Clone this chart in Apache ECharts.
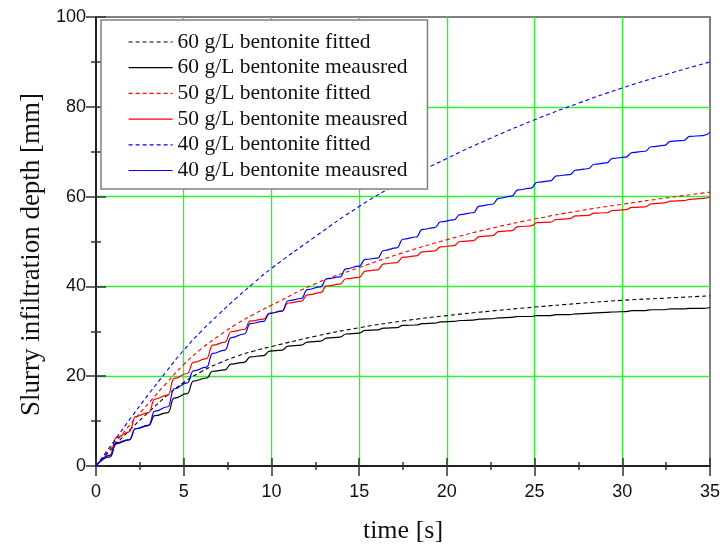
<!DOCTYPE html>
<html>
<head>
<meta charset="utf-8">
<script src="https://cdn.jsdelivr.net/npm/echarts@6/dist/echarts.min.js"></script>
<style>
  html, body { margin: 0; padding: 0; background: #fff; }
  #chart { width: 723px; height: 549px; }
</style>
</head>
<body>
<div id="chart"></div>
<script>
// Fitted curves (s -> mm)
var timeFit = [0, 1, 2, 3, 4, 5, 6, 7, 8, 9, 10, 12.5, 15, 17.5, 20, 22.5, 25, 27.5, 30, 32.5, 35];
var fit60 = [0, 4.3, 8.3, 12.0, 15.5, 18.6, 21.0, 22.9, 24.4, 25.6, 26.6, 28.9, 30.8, 32.3, 33.5, 34.5, 35.4, 36.2, 36.9, 37.4, 37.9];
var fit50 = [0, 4.8, 9.5, 14.0, 18.4, 22.6, 26.1, 29.0, 31.6, 33.8, 35.8, 40.6, 44.2, 47.5, 50.4, 52.9, 55.0, 56.8, 58.3, 59.7, 61.0];
var fit40 = [0, 5.4, 10.8, 16.0, 21.0, 25.8, 30.0, 33.8, 37.4, 40.8, 44.0, 51.1, 57.8, 63.5, 68.5, 73.0, 77.1, 80.8, 84.2, 87.2, 90.0];

// Measured records (stepwise growth)
var timeMeas = [0, 0.8, 1.15, 1.9, 2.25, 3.0, 3.35, 4.1, 4.45, 5.2, 5.55, 6.3, 6.65, 7.35, 7.7, 8.45, 8.8,
  9.55, 9.9, 10.6, 10.95, 11.7, 12.05, 12.8, 13.15, 13.9, 14.25, 15.0, 15.35, 16.05, 16.4, 17.15, 17.5,
  18.25, 18.6, 19.3, 19.65, 20.4, 20.75, 21.5, 21.85, 22.6, 22.95, 23.7, 24.05, 24.8, 25.15, 25.9, 26.25,
  27.0, 27.35, 28.05, 28.4, 29.1, 29.45, 30.2, 30.55, 31.3, 31.65, 32.4, 32.75, 33.5, 33.85, 34.6, 35];
var meas60 = [0, 2.0, 5.0, 5.8, 8.3, 9.0, 11.2, 11.9, 15.1, 16.1, 18.9, 19.6, 21.1, 21.4, 22.7, 23.1, 24.3,
  24.6, 25.6, 25.8, 26.7, 26.9, 27.6, 27.8, 28.5, 28.7, 29.4, 29.6, 30.2, 30.3, 30.7, 30.8, 31.3,
  31.4, 31.7, 31.8, 32.1, 32.2, 32.4, 32.5, 32.7, 32.8, 33.0, 33.1, 33.3, 33.3, 33.5, 33.5, 33.7,
  33.7, 33.9, 34.0, 34.1, 34.2, 34.3, 34.4, 34.6, 34.6, 34.8, 34.8, 35.0, 35.0, 35.1, 35.1, 35.3];
var meas50 = [0, 2.4, 6.3, 7.6, 11.0, 11.9, 14.9, 15.8, 19.5, 20.6, 23.1, 23.9, 26.9, 27.6, 29.9, 30.4, 32.3,
  32.7, 34.0, 34.5, 36.3, 36.7, 38.1, 38.6, 40.1, 40.5, 41.7, 42.0, 43.4, 43.7, 45.0, 45.3, 46.5,
  46.8, 47.7, 47.9, 48.8, 49.1, 50.0, 50.2, 51.1, 51.3, 52.2, 52.4, 53.3, 53.5, 54.2, 54.3, 54.9,
  55.1, 55.7, 55.8, 56.3, 56.4, 56.9, 57.1, 57.6, 57.7, 58.4, 58.6, 59.0, 59.1, 59.4, 59.6, 59.9];
var meas40 = [0, 2.3, 5.2, 5.9, 8.3, 9.1, 12.2, 13.2, 17.2, 18.5, 21.2, 22.0, 25.1, 25.8, 28.6, 29.4, 31.7,
  32.2, 34.0, 34.5, 36.8, 37.3, 39.3, 39.9, 41.7, 42.1, 43.9, 44.5, 46.0, 46.3, 48.0, 48.6, 50.5,
  51.0, 52.7, 53.1, 54.4, 54.8, 56.0, 56.4, 57.9, 58.3, 59.6, 60.1, 61.5, 61.9, 63.2, 63.5, 64.6,
  64.9, 65.9, 66.2, 67.2, 67.5, 68.5, 68.8, 69.8, 70.1, 71.1, 71.4, 72.3, 72.5, 73.4, 73.6, 74.3];

var seriesNames = [
  '60 g/L bentonite fitted', '60 g/L bentonite meausred',
  '50 g/L bentonite fitted', '50 g/L bentonite meausred',
  '40 g/L bentonite fitted', '40 g/L bentonite meausred'
];
var seriesColors = ['#000000', '#000000', '#ff0000', '#ff0000', '#0000ff', '#0000ff'];
var seriesDashed = [true, false, true, false, true, false];

function pairs(xs, ys) {
  return xs.map(function (x, i) { return [x, ys[i]]; });
}

var GRID_GREEN = '#33ee33';
var SANS = 'Liberation Sans, Arial, sans-serif';
var SERIF = 'Liberation Serif, Times New Roman, serif';
var DASH = [4, 3];

function fittedSeries(name, color, xs, ys) {
  return {
    name: name, type: 'line', data: pairs(xs, ys),
    smooth: true, symbol: 'none', silent: true,
    lineStyle: { color: color, width: 1.1, type: DASH },
    itemStyle: { color: color }
  };
}
function measuredSeries(name, color, xs, ys) {
  return {
    name: name, type: 'line', data: pairs(xs, ys),
    smooth: 0.5, smoothMonotone: 'x', symbol: 'none', silent: true,
    lineStyle: { color: color, width: 1.2 },
    itemStyle: { color: color }
  };
}

// Legend entries: a plain line sample (solid or dashed) without a marker
var LINE_ICON = 'path://M0,0M0,7L44,7M44,14';
var legendData = seriesNames.map(function (name, i) {
  return {
    name: name,
    icon: LINE_ICON,
    itemStyle: {
      color: 'transparent',
      borderColor: seriesColors[i],
      borderWidth: 1.2,
      borderType: seriesDashed[i] ? DASH : 'solid'
    }
  };
});

var chart = echarts.init(document.getElementById('chart'), null, { renderer: 'canvas' });

var option = {
  animation: false,
  backgroundColor: '#fff',
  grid: {
    left: 96, right: 12, top: 17, bottom: 81,
    show: true, borderColor: '#808080', borderWidth: 2, backgroundColor: 'transparent'
  },
  legend: {
    left: 101, top: 20, orient: 'vertical',
    padding: [11, 20, 7.5, 27],
    itemWidth: 44, itemHeight: 14, itemGap: 3.7,
    backgroundColor: '#fff', borderColor: '#808080', borderWidth: 1.5, borderRadius: 0,
    textStyle: { fontFamily: SERIF, fontSize: 21.5, color: '#111' },
    data: legendData
  },
  xAxis: [
    {
      type: 'value', min: 0, max: 35, interval: 5, position: 'bottom',
      name: 'time [s]', nameLocation: 'middle', nameGap: 52,
      nameTextStyle: { fontFamily: SERIF, fontSize: 26, color: '#111' },
      axisLine: { show: true, onZero: false, lineStyle: { color: '#000', width: 1.5 } },
      axisTick: { show: true, inside: false, length: 10, lineStyle: { color: '#333', width: 1.5 } },
      minorTick: { show: true, splitNumber: 2, length: 4, lineStyle: { color: '#333', width: 1.5 } },
      axisLabel: { fontFamily: SANS, fontSize: 18, color: '#111', margin: 17 },
      splitLine: { show: true, showMinLine: false, showMaxLine: false, lineStyle: { color: GRID_GREEN, width: 1.4 } }
    },
    {
      type: 'value', min: 0, max: 35, interval: 5, position: 'bottom',
      axisLine: { show: false, onZero: false },
      axisTick: { show: true, inside: true, length: 8, lineStyle: { color: '#333', width: 1.5 } },
      minorTick: { show: true, splitNumber: 2, length: 4, lineStyle: { color: '#333', width: 1.5 } },
      axisLabel: { show: false },
      splitLine: { show: false }
    }
  ],
  yAxis: [
    {
      type: 'value', min: 0, max: 100, interval: 20, position: 'left',
      name: 'Slurry infiltration depth [mm]', nameLocation: 'middle', nameGap: 50, nameRotate: 90,
      nameTextStyle: { fontFamily: SERIF, fontSize: 27, color: '#111', padding: [0, 26, 0, 0] },
      axisLine: { show: true, onZero: false, lineStyle: { color: '#000', width: 1.5 } },
      axisTick: { show: true, inside: false, length: 10, lineStyle: { color: '#333', width: 1.5 } },
      minorTick: { show: true, splitNumber: 2, length: 5, lineStyle: { color: '#333', width: 1.5 } },
      axisLabel: { fontFamily: SANS, fontSize: 18, color: '#111', margin: 10 },
      splitLine: { show: true, showMinLine: false, showMaxLine: false, lineStyle: { color: GRID_GREEN, width: 1.4 } }
    },
    {
      type: 'value', min: 0, max: 100, interval: 20, position: 'left',
      axisLine: { show: false, onZero: false },
      axisTick: { show: true, inside: true, length: 10, lineStyle: { color: '#333', width: 1.5 } },
      minorTick: { show: true, splitNumber: 2, length: 5, lineStyle: { color: '#333', width: 1.5 } },
      axisLabel: { show: false },
      splitLine: { show: false }
    }
  ],
  series: [
    fittedSeries(seriesNames[0], seriesColors[0], timeFit, fit60),
    measuredSeries(seriesNames[1], seriesColors[1], timeMeas, meas60),
    fittedSeries(seriesNames[2], seriesColors[2], timeFit, fit50),
    measuredSeries(seriesNames[3], seriesColors[3], timeMeas, meas50),
    fittedSeries(seriesNames[4], seriesColors[4], timeFit, fit40),
    measuredSeries(seriesNames[5], seriesColors[5], timeMeas, meas40)
  ]
};

chart.setOption(option);
</script>
</body>
</html>
